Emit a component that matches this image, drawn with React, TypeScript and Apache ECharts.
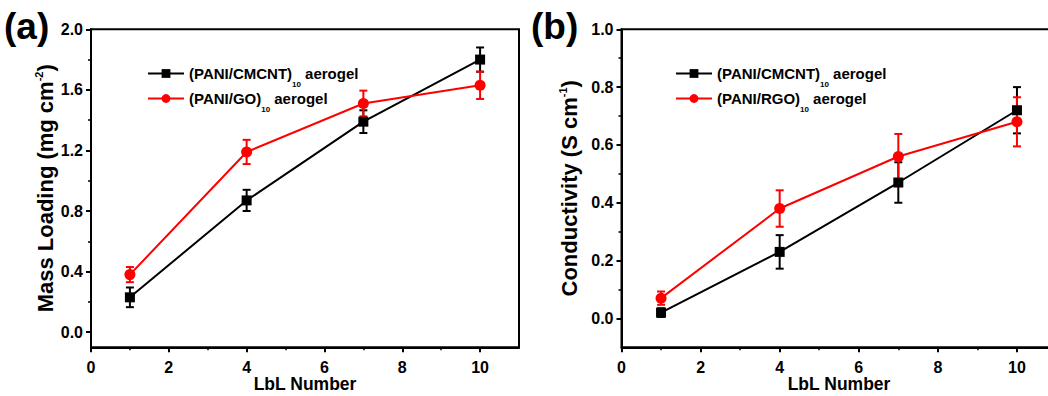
import React, { useEffect, useRef } from "react";
import * as echarts from "echarts";

// ---------- data ----------
const LBL = [1, 4, 7, 10];
const MASS_CMCNT = [0.23, 0.87, 1.39, 1.8];
const MASS_CMCNT_ERR = [0.065, 0.07, 0.075, 0.08];
const MASS_GO = [0.38, 1.19, 1.51, 1.63];
const MASS_GO_ERR = [0.05, 0.08, 0.085, 0.09];
const COND_CMCNT = [0.02, 0.23, 0.47, 0.72];
const COND_CMCNT_ERR = [0.015, 0.058, 0.07, 0.08];
const COND_RGO = [0.07, 0.38, 0.56, 0.68];
const COND_RGO_ERR = [0.023, 0.063, 0.078, 0.085];

const X_MAJOR = [0, 2, 4, 6, 8, 10];
const X_MINOR = [1, 3, 5, 7, 9];
const MASS_MAJOR = [0, 0.4, 0.8, 1.2, 1.6, 2.0];
const MASS_MINOR = [0.2, 0.6, 1.0, 1.4, 1.8];
const COND_MAJOR = [0, 0.2, 0.4, 0.6, 0.8, 1.0];
const COND_MINOR = [0.1, 0.3, 0.5, 0.7, 0.9];

const S_CMCNT = "(PANI/CMCNT)10 aerogel";
const S_GO = "(PANI/GO)10 aerogel";
const S_RGO = "(PANI/RGO)10 aerogel";

const FONT = "Liberation Sans, Arial, sans-serif";
const BLACK = "#000000";
const RED = "#ff0000";

function pairs(xs: number[], ys: number[]) {
  return xs.map((x, i) => [x, ys[i]]);
}
function triples(xs: number[], ys: number[], es: number[]) {
  return xs.map((x, i) => [x, ys[i], es[i]]);
}

function errorSeries(xi: number, data: number[][], color: string) {
  return {
    type: "custom",
    xAxisIndex: xi,
    yAxisIndex: xi,
    coordinateSystem: "cartesian2d",
    encode: { x: 0, y: 1 },
    data,
    z: 3,
    renderItem: (params: any, api: any) => {
      const x = api.value(0);
      const y = api.value(1);
      const e = api.value(2);
      const p1 = api.coord([x, y + e]);
      const p2 = api.coord([x, y - e]);
      const w = 4;
      const style = { stroke: color, lineWidth: 2, fill: null };
      return {
        type: "group",
        children: [
          { type: "line", shape: { x1: p1[0], y1: p1[1], x2: p2[0], y2: p2[1] }, style },
          { type: "line", shape: { x1: p1[0] - w, y1: p1[1], x2: p1[0] + w, y2: p1[1] }, style },
          { type: "line", shape: { x1: p2[0] - w, y1: p2[1], x2: p2[0] + w, y2: p2[1] }, style },
        ],
      };
    },
  };
}

function lineSeries(xi: number, name: string, data: number[][], color: string, symbol: string, size: number) {
  return {
    type: "line",
    name,
    xAxisIndex: xi,
    yAxisIndex: xi,
    data,
    symbol,
    symbolSize: size,
    z: 4,
    lineStyle: { color, width: 2 },
    itemStyle: { color, borderWidth: 0 },
  };
}

const labelStyle = { color: BLACK, fontFamily: FONT, fontWeight: "bold", fontSize: 16 };

function xAxes(grid: number) {
  return [
    {
      type: "value",
      gridIndex: grid,
      position: "bottom",
      min: 0,
      max: 11,
      axisLine: { show: true, onZero: false, lineStyle: { color: BLACK, width: 2 } },
      axisTick: { show: true, customValues: X_MAJOR, length: 5, lineStyle: { color: BLACK, width: 2 } },
      axisLabel: { show: true, customValues: X_MAJOR, margin: 12, ...labelStyle },
      splitLine: { show: false },
      name: "LbL Number",
      nameLocation: "middle",
      nameGap: 29,
      nameMoveOverlap: false,
      nameTextStyle: { color: BLACK, fontFamily: FONT, fontWeight: "bold", fontSize: 17.5, lineHeight: 16 },
    },
    {
      type: "value",
      gridIndex: grid,
      position: "bottom",
      min: 0,
      max: 11,
      axisLine: { show: false, onZero: false },
      axisTick: { show: true, customValues: X_MINOR, length: 3, lineStyle: { color: BLACK, width: 1.5 } },
      axisLabel: { show: false },
      splitLine: { show: false },
    },
  ];
}

function yAxes(grid: number, max: number, major: number[], minor: number[], name: string, gap: number) {
  return [
    {
      type: "value",
      gridIndex: grid,
      position: "left",
      min: -0.1,
      max,
      axisLine: { show: true, onZero: false, lineStyle: { color: BLACK, width: 2 } },
      axisTick: { show: true, customValues: major, length: 5, lineStyle: { color: BLACK, width: 2 } },
      axisLabel: {
        show: true,
        customValues: major,
        margin: 8,
        formatter: (v: number) => v.toFixed(1),
        ...labelStyle,
      },
      splitLine: { show: false },
      name,
      nameLocation: "middle",
      nameGap: gap,
      nameMoveOverlap: false,
      nameTextStyle: {
        color: BLACK,
        fontFamily: FONT,
        fontWeight: "bold",
        fontSize: 22,
        lineHeight: 24,
        rich: {
          sup: { color: BLACK, fontFamily: FONT, fontWeight: "bold", fontSize: 11, lineHeight: 8, verticalAlign: "top" },
        },
      },
    },
    {
      type: "value",
      gridIndex: grid,
      position: "left",
      min: -0.1,
      max,
      axisLine: { show: false, onZero: false },
      axisTick: { show: true, customValues: minor, length: 3, lineStyle: { color: BLACK, width: 1.5 } },
      axisLabel: { show: false },
      splitLine: { show: false },
    },
  ];
}

function legend(left: number, names: string[]) {
  return {
    orient: "vertical",
    left,
    top: 65.5,
    padding: 0,
    itemGap: 2,
    itemWidth: 36,
    itemHeight: 11,
    selectedMode: false,
    data: names,
    formatter: (n: string) => n.replace("10 aerogel", "{sub|10} aerogel"),
    textStyle: {
      color: BLACK,
      fontFamily: FONT,
      fontWeight: "bold",
      fontSize: 15,
      lineHeight: 16,
      rich: {
        sub: {
          color: BLACK,
          fontFamily: FONT,
          fontWeight: "bold",
          fontSize: 8,
          lineHeight: 8,
          verticalAlign: "top",
          padding: [15, 0, 0, 0],
        },
      },
    },
  };
}

export default function App() {
  const ref = useRef<HTMLDivElement>(null);
  useEffect(() => {
    document.body.style.margin = "0";
    if (!ref.current) return;
    const chart = echarts.init(ref.current, null, { renderer: "svg" });
    const xa = xAxes(0);
    const xb = xAxes(1);
    const ya = yAxes(0, 2.0, MASS_MAJOR, MASS_MINOR, "Mass Loading (mg cm{sup|-2})", 34);
    const yb = yAxes(1, 1.0, COND_MAJOR, COND_MINOR, "Conductivity (S cm{sup|-1})", 40);
    chart.setOption({
      animation: false,
      backgroundColor: "#ffffff",
      grid: [
        { left: 91, top: 29.3, width: 428, height: 318, show: true, borderColor: BLACK, borderWidth: 2, backgroundColor: "transparent", containLabel: false, outerBoundsMode: "none" },
        { left: 621.5, top: 29.3, width: 435, height: 318, show: true, borderColor: BLACK, borderWidth: 2, backgroundColor: "transparent", containLabel: false, outerBoundsMode: "none" },
      ],
      xAxis: [xa[0], xb[0], xa[1], xb[1]],
      yAxis: [ya[0], yb[0], { ...ya[1], gridIndex: 0 }, { ...yb[1], gridIndex: 1 }],
      legend: [legend(147, [S_CMCNT, S_GO]), legend(675, [S_CMCNT, S_RGO])],
      graphic: [
        { type: "text", left: 4, top: 8, style: { text: "(a)", fill: BLACK, font: `bold 37px ${FONT}` } },
        { type: "text", left: 531, top: 8, style: { text: "(b)", fill: BLACK, font: `bold 37px ${FONT}` } },
      ],
      series: [
        errorSeries(0, triples(LBL, MASS_CMCNT, MASS_CMCNT_ERR), BLACK),
        lineSeries(0, S_CMCNT, pairs(LBL, MASS_CMCNT), BLACK, "rect", 10),
        errorSeries(0, triples(LBL, MASS_GO, MASS_GO_ERR), RED),
        lineSeries(0, S_GO, pairs(LBL, MASS_GO), RED, "circle", 11),
        errorSeries(1, triples(LBL, COND_CMCNT, COND_CMCNT_ERR), BLACK),
        lineSeries(1, S_CMCNT, pairs(LBL, COND_CMCNT), BLACK, "rect", 10),
        errorSeries(1, triples(LBL, COND_RGO, COND_RGO_ERR), RED),
        lineSeries(1, S_RGO, pairs(LBL, COND_RGO), RED, "circle", 11),
      ],
    });
    return () => chart.dispose();
  }, []);
  return <div ref={ref} style={{ width: 1048, height: 396 }} />;
}
